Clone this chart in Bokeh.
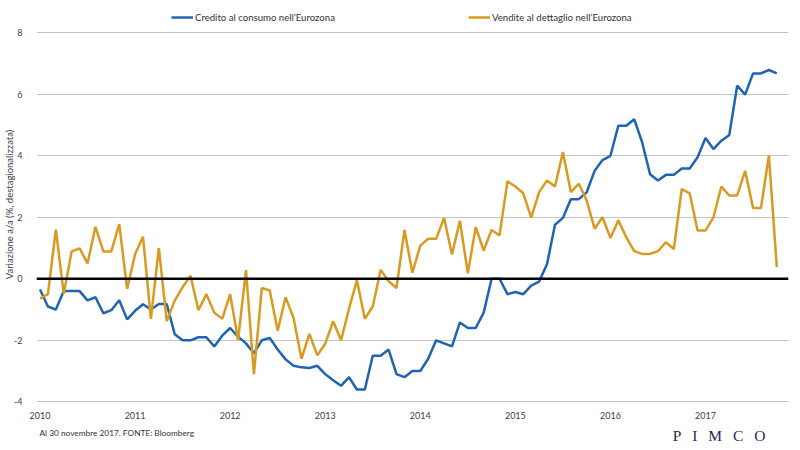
from bokeh.plotting import figure
from bokeh.layouts import column
from bokeh.models import (Range1d, FixedTicker, Span, Legend, LegendItem,
                          ColumnDataSource)
from bokeh.core.properties import value
from bokeh.embed import file_html
from bokeh.resources import INLINE

# ---- data (monthly, Jan 2010 - Oct 2017) ----
credito = [
    -0.35, -0.9, -1.0, -0.4, -0.4, -0.4, -0.7, -0.6, -1.12, -1.02, -0.7, -1.32,
    -1.04, -0.83, -1.0, -0.82, -0.82, -1.8, -2.0, -2.0, -1.9, -1.9, -2.2, -1.85,
    -1.6, -1.88, -2.1, -2.42, -2.0, -1.92, -2.3, -2.62, -2.83, -2.88, -2.9, -2.83,
    -3.1, -3.3, -3.48, -3.2, -3.6, -3.6, -2.5, -2.5, -2.3, -3.1, -3.2, -3.0,
    -3.0, -2.6, -2.0, -2.1, -2.2, -1.42, -1.6, -1.6, -1.1, 0.0, 0.0, -0.5,
    -0.43, -0.5, -0.22, -0.09, 0.48, 1.76, 1.98, 2.59, 2.59, 2.81, 3.51, 3.86,
    4.0, 4.98, 4.98, 5.19, 4.44, 3.4, 3.2, 3.38, 3.38, 3.59, 3.59, 3.95,
    4.58, 4.22, 4.49, 4.68, 6.28, 5.99, 6.68, 6.68, 6.79, 6.68,
]
vendite = [
    -0.65, -0.5, 1.6, -0.49, 0.89, 0.99, 0.5, 1.69, 0.89, 0.89, 1.78, -0.33,
    0.8, 1.37, -1.3, 1.0, -1.38, -0.71, -0.27, 0.1, -1.02, -0.5, -1.1, -1.3,
    -0.5, -1.99, 0.28, -3.1, -0.3, -0.38, -1.69, -0.6, -1.27, -2.6, -1.79, -2.49,
    -2.11, -1.38, -2.0, -0.98, -0.05, -1.3, -0.9, 0.29, -0.08, -0.3, 1.59, 0.2,
    1.08, 1.3, 1.3, 1.98, 0.79, 1.89, 0.18, 1.68, 0.92, 1.59, 1.41, 3.17,
    3.0, 2.78, 1.99, 2.82, 3.2, 3.0, 4.12, 2.82, 3.09, 2.55, 1.63, 2.0,
    1.33, 1.9, 1.35, 0.9, 0.81, 0.81, 0.9, 1.19, 0.97, 2.92, 2.78, 1.57,
    1.57, 2.0, 3.0, 2.71, 2.71, 3.51, 2.3, 2.3, 4.01, 0.38,
]
start_year = 2010
months = [start_year + k / 12 for k in range(len(credito))]

year_ticks = [2010, 2011, 2012, 2013, 2014, 2015, 2016, 2017]
year_labels = ["2010", "2011", "2012", "2013", "2014", "2015", "2016", "2017"]
y_ticks = [-4, -2, 0, 2, 4, 6, 8]
y_labels = ["-4", "-2", "0", "2", "4", "6", "8"]

series_names = ["Credito al consumo nell\u2019Eurozona",
                "Vendite al dettaglio nell\u2019Eurozona"]
y_title = "Variazione a/a (%, destagionalizzata)"
footer_text = "Al 30 novembre 2017. FONTE: Bloomberg"
brand_text = "P\u2002\u2009I\u2002\u2009M\u2002\u2009C\u2002\u2009O"

# ---- styling / layout ----
BLUE = "#1f64b4"
ORANGE = "#d99a22"
TEXT = "#404040"
FONT = "Lato"

W = 800
H_MAIN, H_FOOT = 425, 25
ML, MR, MT, MB = 35, 12, 4, 21
frame_w = W - ML - MR
frame_h = H_MAIN - MT - MB
PXY = 95.2                       # pixels per year
X0 = 2010 - 3.5 / PXY
X1 = X0 + frame_w / PXY
PXU = 30.75                      # pixels per y unit
Y1 = 8 + 28.3 / PXU
Y0 = Y1 - frame_h / PXU

p = figure(width=W, height=H_MAIN, output_backend="svg", toolbar_location=None,
           x_range=Range1d(X0, X1), y_range=Range1d(Y0, Y1),
           min_border_left=ML, min_border_right=MR,
           min_border_top=MT, min_border_bottom=MB)
p.outline_line_color = None
p.background_fill_color = "white"
p.border_fill_color = "white"

p.xgrid.visible = False
p.ygrid.ticker = FixedTicker(ticks=y_ticks)
p.ygrid.grid_line_color = "#c4c4c4"
p.ygrid.grid_line_width = 1

for ax in (p.xaxis[0], p.yaxis[0]):
    ax.axis_line_color = None
    ax.major_tick_line_color = None
    ax.minor_tick_line_color = None
    ax.major_label_text_font = FONT
    ax.major_label_text_font_size = "9px"
    ax.major_label_text_color = TEXT

p.xaxis[0].ticker = FixedTicker(ticks=year_ticks)
p.xaxis[0].major_label_overrides = {t: l for t, l in zip(year_ticks, year_labels)}
p.xaxis[0].major_label_standoff = 1
p.yaxis[0].ticker = FixedTicker(ticks=y_ticks)
p.yaxis[0].major_label_overrides = {t: l for t, l in zip(y_ticks, y_labels)}
p.yaxis[0].major_label_standoff = 8
p.yaxis[0].axis_label = y_title
p.yaxis[0].axis_label_standoff = -4
p.yaxis[0].axis_label_text_font = FONT
p.yaxis[0].axis_label_text_font_size = "9.5px"
p.yaxis[0].axis_label_text_font_style = "normal"
p.yaxis[0].axis_label_text_color = TEXT

p.add_layout(Span(location=0, dimension="width", line_color="black", line_width=2.5))

r_blue = p.line(months, credito, line_color=BLUE, line_width=2.5)
r_orange = p.line(months, vendite, line_color=ORANGE, line_width=2.5)

LEG_BOTTOM = frame_h - (23 - MT)   # legend bottom, measured from frame bottom

def make_legend(name, rend, x_px):
    lg = Legend(items=[LegendItem(label=name, renderers=[rend])],
                location=(x_px, LEG_BOTTOM), orientation="horizontal",
                padding=0, margin=0, spacing=0,
                glyph_width=22, glyph_height=12, label_height=12,
                label_standoff=2, border_line_color=None,
                background_fill_alpha=0,
                label_text_font=FONT, label_text_font_size="9.6px",
                label_text_color="#333333")
    p.add_layout(lg)

make_legend(series_names[0], r_blue, 170 - ML)
make_legend(series_names[1], r_orange, 467 - ML)

# ---- footer strip (x in page pixels, frame aligned with the main frame) ----
f = figure(width=W, height=H_FOOT, output_backend="svg", toolbar_location=None,
           x_range=Range1d(ML, W - MR), y_range=Range1d(H_FOOT, 0),
           min_border_left=ML, min_border_right=MR,
           min_border_top=0, min_border_bottom=0)
f.axis.visible = False
f.grid.visible = False
f.outline_line_color = None
f.background_fill_color = "white"
f.border_fill_color = "white"

src_note = ColumnDataSource(dict(x=[38], y=[7], t=[footer_text]))
f.text(x="x", y="y", text="t", source=src_note, text_font=value(FONT),
       text_font_size="8.3px", text_color="#333333",
       text_align="left", text_baseline="middle")
src_brand = ColumnDataSource(dict(x=[718.5], y=[10], t=[brand_text]))
f.text(x="x", y="y", text="t", source=src_brand,
       text_font=value("Liberation Serif"), text_font_size="15.5px",
       text_color="#1c2b4f", text_align="center", text_baseline="middle")

layout = column(p, f, spacing=0)
open("out.html", "w").write(file_html(layout, INLINE))
